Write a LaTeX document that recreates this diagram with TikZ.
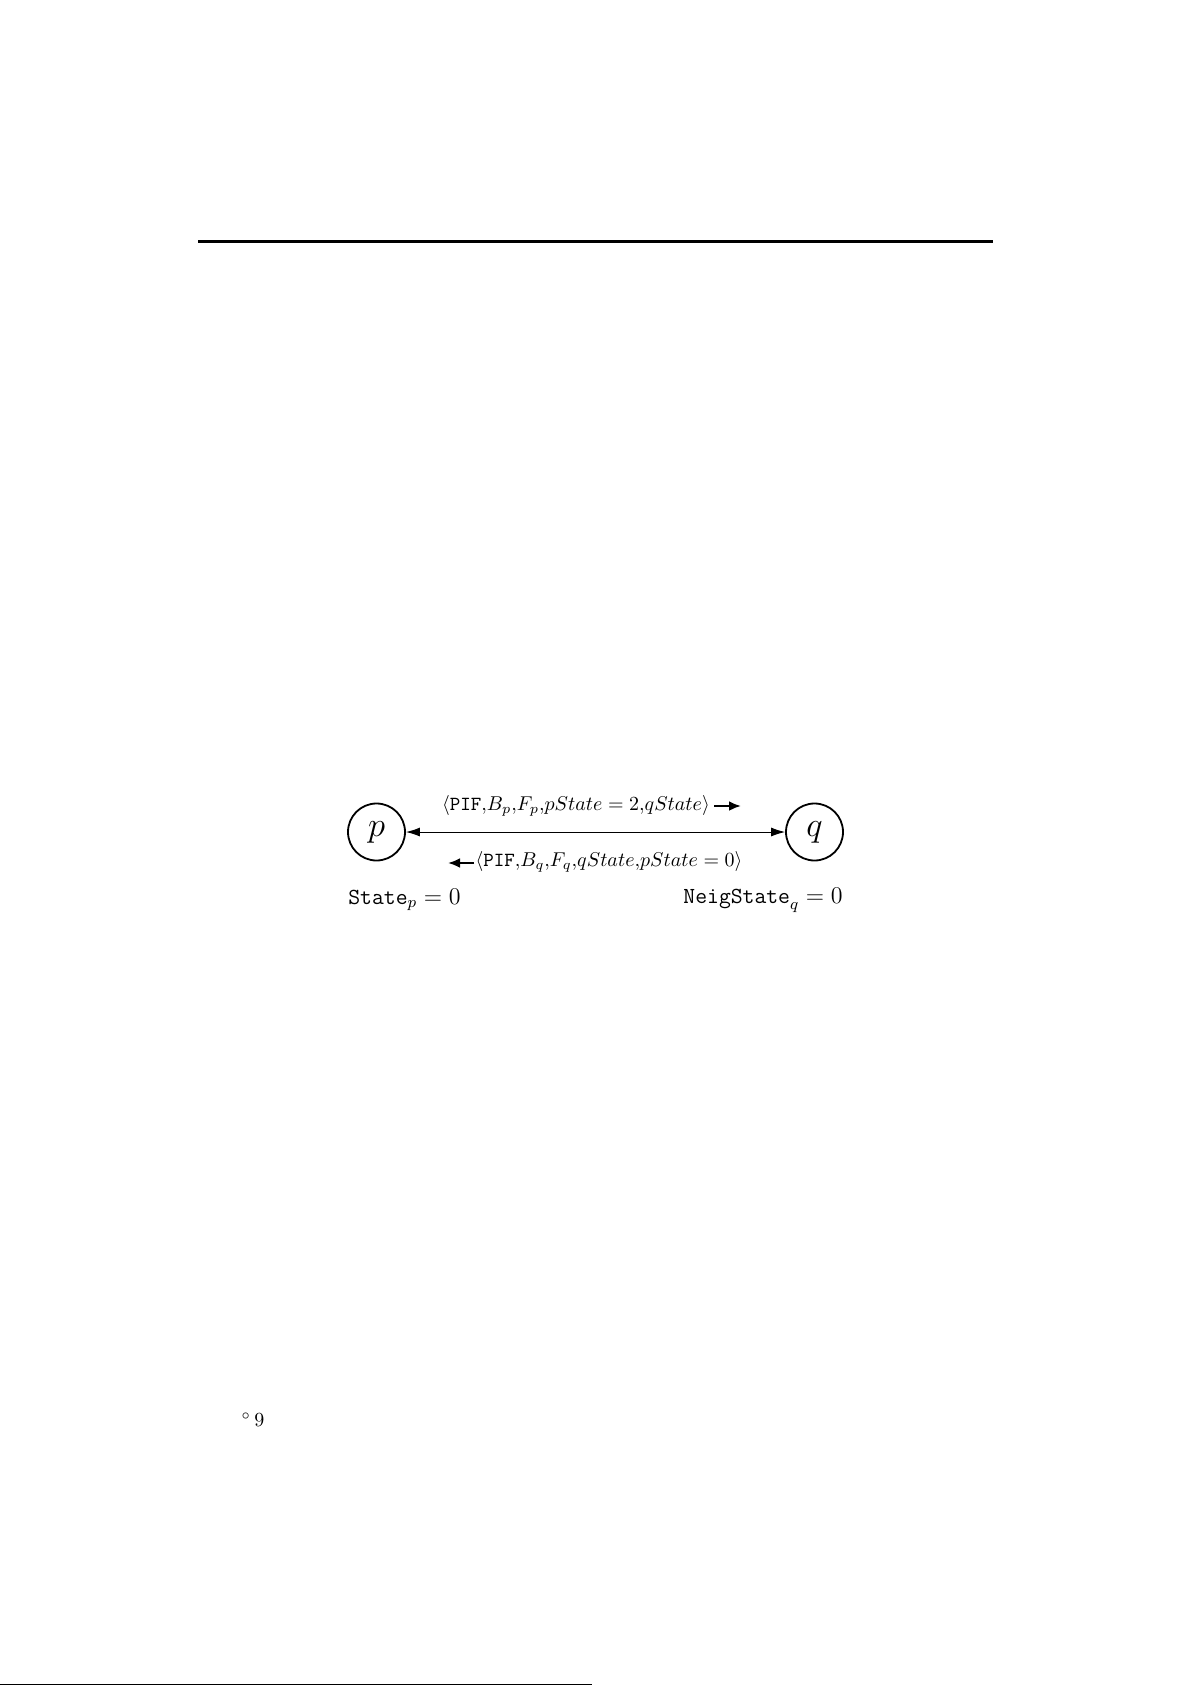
\documentclass[tikz,border=0pt]{standalone}
\usetikzlibrary{arrows.meta}
\begin{document}
\begin{tikzpicture}[x=0.5pt,y=-0.5pt,
        proc/.style={circle,draw,line width=0.9pt,minimum size=28.5pt,inner sep=0pt,font=\fontsize{18}{20}\selectfont},
        msgarrow/.style={line width=1.2pt,-{Latex[length=6pt,width=5pt]}},
        lbl/.style={inner sep=0pt,font=\fontsize{11.5}{13.5}\selectfont}]
        \useasboundingbox (0,0) rectangle (1191,1685);
        % page rules
        \draw[line width=1.5pt] (198,242) -- (993,242);
        \draw[line width=0.5pt] (0,1684) -- (592,1684);
        % the two processes
        \node[proc] (p) at (376.5,832) {$p$};
        \node[proc] (q) at (814.5,832) {$q$};
        \draw[line width=0.5pt,{Latex[length=7pt,width=4.5pt]}-{Latex[length=7pt,width=4.5pt]}] (p) -- (q);
        % messages
        \node[inner sep=0pt] (msgpq) at (576,806) {$\langle\texttt{PIF}{,}B_p{,}F_p{,}pState=2{,}qState\rangle$};
        \coordinate (pqa) at (714,806);
        \coordinate (pqb) at (741,806);
        \draw[msgarrow] (pqa) -- (pqb);
        \node[inner sep=0pt] (msgqp) at (609,862) {$\langle\texttt{PIF}{,}B_q{,}F_q{,}qState{,}pState=0\rangle$};
        \coordinate (qpa) at (474,863);
        \coordinate (qpb) at (448,863);
        \draw[msgarrow] (qpa) -- (qpb);
        % variables
        \node[lbl,anchor=west] (statep) at (348,900) {$\texttt{State}_p=0$};
        \node[lbl,anchor=east] (neigq) at (843,900) {$\texttt{NeigState}_q=0$};
        % page number
        \node[inner sep=0pt] (pagenum) at (253,1420) {$^\circ$\,9};
\end{tikzpicture}
\end{document}
